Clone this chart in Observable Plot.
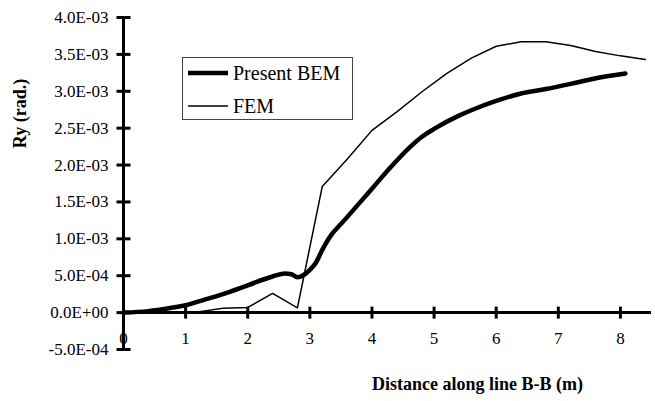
<!DOCTYPE html>
<html>
<head>
<meta charset="utf-8">
<script src="https://cdn.jsdelivr.net/npm/d3@7"></script>
<script src="https://cdn.jsdelivr.net/npm/@observablehq/plot@0.6"></script>
<style>
  html, body { margin: 0; padding: 0; background: #fff; }
  #wrap { position: relative; width: 655px; height: 401px; font-family: "Liberation Serif", "Times New Roman", serif; }
  #legend { position: absolute; left: 182px; top: 57px; width: 171px; height: 63px; box-sizing: border-box;
            border: 1px solid #444; background: #fff; }
  .row { position: absolute; left: 4px; display: flex; align-items: center; font-size: 20px; color: #000; }
  .row svg { margin-right: 4px; }
</style>
</head>
<body>
<div id="wrap"><div id="legend"></div></div>
<script>
// ---- data ----
const seriesNames = ["Present BEM", "FEM"];
const bemX = [0, 0.4, 0.8, 1.0, 1.2, 1.6, 2.0, 2.4, 2.6, 2.7, 2.8, 2.9, 3.0, 3.1, 3.2, 3.36, 3.5, 4.0, 4.3, 4.62, 4.8, 5.0, 5.4, 5.59, 6.0, 6.4, 6.8, 7.2, 7.57, 8.08];
const bemY = [0, 0.00002, 0.00007, 0.0001, 0.00015, 0.00025, 0.00037, 0.00049, 0.00053, 0.00052, 0.00048, 0.00051, 0.00058, 0.00068, 0.00085, 0.00107, 0.0012, 0.00168, 0.00197, 0.00225, 0.00238, 0.00249, 0.00267, 0.00274, 0.00287, 0.00297, 0.00303, 0.0031, 0.00317, 0.00324];
const femX = [0, 0.4, 0.8, 1.2, 1.6, 2.0, 2.4, 2.8, 3.2, 3.6, 4.0, 4.4, 4.8, 5.2, 5.6, 6.0, 6.4, 6.8, 7.2, 7.6, 8.0, 8.4];
const femY = [0, 0, 0, 0.00001, 0.00006, 0.00007, 0.00026, 0.000065, 0.00171, 0.00208, 0.00247, 0.00272, 0.00299, 0.00324, 0.00345, 0.00361, 0.00367, 0.00367, 0.00362, 0.00354, 0.00348, 0.00343];
const xTicks = [0, 1, 2, 3, 4, 5, 6, 7, 8];
const xDomain = [0, 8.5];
const yTicks = [-0.0005, 0, 0.0005, 0.001, 0.0015, 0.002, 0.0025, 0.003, 0.0035, 0.004];
const xTitle = "Distance along line B-B (m)";
const yTitle = "Ry (rad.)";

// ---- build ----
const bem = bemX.map((x, i) => ({x, y: bemY[i]}));
const fem = femX.map((x, i) => ({x, y: femY[i]}));
const fmtE = v => {
  const s = d3.format(".1e")(v).replace(/\u2212/g, "-");
  const [m, ex] = s.split("e");
  const sign = ex[0] === "-" ? "-" : "+";
  return m + "E" + sign + String(Math.abs(+ex)).padStart(2, "0");
};
const hTick = {draw(ctx) { ctx.moveTo(-7, 0); ctx.lineTo(7, 0); }};
const vTick = {draw(ctx) { ctx.moveTo(0, -6); ctx.lineTo(0, 6); }};
const font = '"Liberation Serif", "Times New Roman", serif';

const chart = Plot.plot({
  width: 655, height: 401,
  marginLeft: 123, marginRight: 4, marginTop: 17, marginBottom: 52,
  x: {domain: xDomain, axis: null},
  y: {domain: [yTicks[0], yTicks[yTicks.length - 1]], axis: null},
  style: {fontFamily: font, background: "#fff", color: "#000", overflow: "visible"},
  marks: [
    Plot.ruleX([0], {y1: yTicks[0], y2: yTicks[yTicks.length - 1], stroke: "#000", strokeWidth: 3}),
    Plot.ruleY([0], {x1: xDomain[0], x2: xDomain[1], stroke: "#000", strokeWidth: 3}),
    Plot.dot(yTicks, {x: 0, y: d => d, symbol: hTick, fill: "none", stroke: "#000", strokeWidth: 3}),
    Plot.dot(xTicks.filter(d => d > 0), {x: d => d, y: 0, symbol: vTick, fill: "none", stroke: "#000", strokeWidth: 3}),
    Plot.text(yTicks, {x: 0, y: d => d, text: fmtE, textAnchor: "end", dx: -15, fontSize: 17, fill: "#000"}),
    Plot.text(xTicks, {x: d => d, y: 0, text: d => String(d), dy: 26, fontSize: 17, fill: "#000"}),
    Plot.line(fem, {x: "x", y: "y", stroke: "#000", strokeWidth: 1.5}),
    Plot.line(bem, {x: "x", y: "y", stroke: "#000", strokeWidth: 4.5, curve: "monotone-x"}),
    Plot.text([yTitle], {frameAnchor: "top-left", dx: -110, dy: 96, rotate: -90, fontSize: 18, fontWeight: "bold", textAnchor: "middle", fill: "#000"}),
    Plot.text([xTitle], {frameAnchor: "bottom-left", dx: 354, dy: 40, fontSize: 18, fontWeight: "bold", textAnchor: "middle", fill: "#000"})
  ]
});
document.getElementById("wrap").prepend(chart);

// legend
const legend = document.getElementById("legend");
const widths = [4.5, 1.5];
seriesNames.forEach((name, i) => {
  const row = document.createElement("div");
  row.className = "row";
  row.style.top = (i === 0 ? 3 : 36) + "px";
  row.innerHTML = `<svg width="42" height="24"><line x1="1" x2="41" y1="12" y2="12" stroke="#000" stroke-width="${widths[i]}"/></svg><span>${name}</span>`;
  legend.appendChild(row);
});
</script>
</body>
</html>
